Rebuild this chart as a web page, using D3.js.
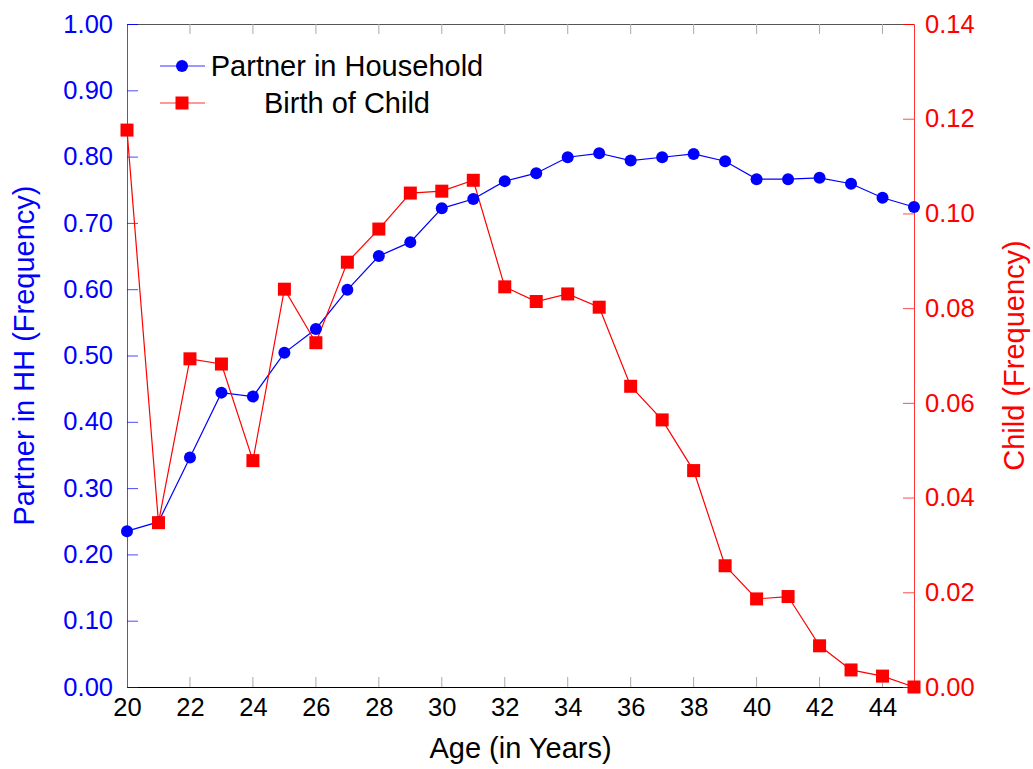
<!DOCTYPE html>
<html>
<head>
<meta charset="utf-8">
<script src="https://cdn.jsdelivr.net/npm/d3@7"></script>
<style>
  html, body { margin: 0; padding: 0; background: #fff; }
  svg { display: block; font-family: "Liberation Sans", Arial, Helvetica, sans-serif; }
</style>
</head>
<body>
<svg id="chart" width="1033" height="769"></svg>
<script>
// Age in years
const ages = [20, 21, 22, 23, 24, 25, 26, 27, 28, 29, 30, 31, 32,
              33, 34, 35, 36, 37, 38, 39, 40, 41, 42, 43, 44, 45];
// Share living with a partner in the household
const partnerInHH = [0.235, 0.249, 0.346, 0.444, 0.438, 0.504, 0.540, 0.599, 0.650,
                     0.671, 0.722, 0.736, 0.763, 0.775, 0.799, 0.805, 0.794, 0.799,
                     0.804, 0.793, 0.766, 0.766, 0.768, 0.759, 0.738, 0.724];
// Share with a birth of a child
const birthOfChild = [0.1176, 0.0347, 0.0693, 0.0682, 0.0478, 0.0840, 0.0727, 0.0897,
                      0.0967, 0.1043, 0.1047, 0.1070, 0.0845, 0.0814, 0.0830, 0.0802,
                      0.0635, 0.0564, 0.0457, 0.0256, 0.0186, 0.0191, 0.0087, 0.0036,
                      0.0023, 0.0000];
// Tick values
const xTicks = [20, 22, 24, 26, 28, 30, 32, 34, 36, 38, 40, 42, 44];
const leftTicks = [0, 0.1, 0.2, 0.3, 0.4, 0.5, 0.6, 0.7, 0.8, 0.9, 1.0];
const rightTicks = [0, 0.02, 0.04, 0.06, 0.08, 0.10, 0.12, 0.14];
const seriesNames = ["Partner in Household", "Birth of Child"];

const BLUE = "#0000ff", RED = "#ff0000";
const plotL = 127, plotR = 914, plotT = 24, plotB = 687;

const svg = d3.select("#chart");
const x = d3.scaleLinear().domain([20, 45]).range([plotL, plotR]);
const yL = d3.scaleLinear().domain([0, 1]).range([plotB, plotT]);
const yR = d3.scaleLinear().domain([0, 0.14]).range([plotB, plotT]);

const tickFs = 25.5;
const titleFs = 29;
const FONT = "Liberation Sans, Arial, sans-serif";

// Top frame line
svg.append("line").attr("x1", plotL).attr("x2", plotR).attr("y1", plotT + 0.5).attr("y2", plotT + 0.5)
  .attr("stroke", "#555").attr("stroke-width", 1);

// Bottom axis
const gx = svg.append("g").attr("transform", `translate(0,${plotB})`)
  .call(d3.axisBottom(x).tickValues(xTicks).tickSize(0).tickPadding(11).tickFormat(d3.format("d")));
gx.select(".domain").attr("stroke", "#000");
gx.selectAll("text").attr("font-size", tickFs).attr("fill", "#000").attr("font-family", FONT);
// Gray inward ticks at bottom and top
svg.append("g").selectAll("line").data(xTicks.filter(d => d > 20)).join("line")
  .attr("x1", d => x(d)).attr("x2", d => x(d)).attr("y1", plotB).attr("y2", plotB - 10)
  .attr("stroke", "#aaa").attr("stroke-width", 1);
svg.append("g").selectAll("line").data(xTicks.filter(d => d > 20)).join("line")
  .attr("x1", d => x(d)).attr("x2", d => x(d)).attr("y1", plotT).attr("y2", plotT + 10)
  .attr("stroke", "#aaa").attr("stroke-width", 1);

// Left axis (blue)
const gl = svg.append("g").attr("transform", `translate(${plotL},0)`)
  .call(d3.axisLeft(yL).tickValues(leftTicks).tickSize(-11).tickPadding(14).tickFormat(d3.format(".2f")));
gl.select(".domain").attr("stroke", BLUE).attr("stroke-opacity", 0.7);
gl.selectAll(".tick line").attr("stroke", BLUE).attr("stroke-opacity", 0.7);
gl.selectAll("text").attr("font-size", tickFs).attr("fill", BLUE).attr("font-family", FONT);

// Right axis (red)
const gr = svg.append("g").attr("transform", `translate(${plotR},0)`)
  .call(d3.axisRight(yR).tickValues(rightTicks).tickSize(-11).tickPadding(11).tickFormat(d3.format(".2f")));
gr.select(".domain").attr("stroke", RED).attr("stroke-opacity", 0.8);
gr.selectAll(".tick line").attr("stroke", RED).attr("stroke-opacity", 0.7);
gr.selectAll("text").attr("font-size", tickFs).attr("fill", RED).attr("font-family", FONT);

// Axis titles
svg.append("text").attr("x", (plotL + plotR) / 2).attr("y", 758).attr("text-anchor", "middle")
  .attr("font-size", titleFs).attr("fill", "#000").text("Age (in Years)");
svg.append("text").attr("transform", `translate(34,${(plotT + plotB) / 2}) rotate(-90)`)
  .attr("text-anchor", "middle").attr("font-size", titleFs).attr("fill", BLUE).text("Partner in HH (Frequency)");
svg.append("text").attr("transform", `translate(1024,${(plotT + plotB) / 2}) rotate(-90)`)
  .attr("text-anchor", "middle").attr("font-size", titleFs).attr("fill", RED).text("Child (Frequency)");

// Series lines
const blueData = ages.map((a, i) => [a, partnerInHH[i]]);
const redData = ages.map((a, i) => [a, birthOfChild[i]]);

svg.append("path").datum(blueData)
  .attr("d", d3.line().x(d => x(d[0])).y(d => yL(d[1])))
  .attr("fill", "none").attr("stroke", BLUE).attr("stroke-width", 1.2);
svg.append("path").datum(redData)
  .attr("d", d3.line().x(d => x(d[0])).y(d => yR(d[1])))
  .attr("fill", "none").attr("stroke", RED).attr("stroke-width", 1.2);

// Markers
svg.append("g").selectAll("circle").data(blueData).join("circle")
  .attr("cx", d => x(d[0])).attr("cy", d => yL(d[1])).attr("r", 6).attr("fill", BLUE);
const sq = 13;
svg.append("g").selectAll("rect").data(redData).join("rect")
  .attr("x", d => x(d[0]) - sq / 2).attr("y", d => yR(d[1]) - sq / 2)
  .attr("width", sq).attr("height", sq).attr("fill", RED);

// Legend
const legend = svg.append("g");
const legY = [66, 103];
const legColors = [BLUE, RED];
seriesNames.forEach((name, i) => {
  legend.append("line").attr("x1", 160).attr("x2", 205).attr("y1", legY[i]).attr("y2", legY[i])
    .attr("stroke", legColors[i]).attr("stroke-width", 1.2).attr("stroke-opacity", 0.8);
  if (i === 0) {
    legend.append("circle").attr("cx", 182).attr("cy", legY[i]).attr("r", 6).attr("fill", BLUE);
  } else {
    legend.append("rect").attr("x", 182 - sq / 2).attr("y", legY[i] - sq / 2)
      .attr("width", sq).attr("height", sq).attr("fill", RED);
  }
  legend.append("text").attr("x", 347).attr("y", legY[i] + 10).attr("text-anchor", "middle")
    .attr("font-size", titleFs).attr("fill", "#000").text(name);
});
</script>
</body>
</html>
